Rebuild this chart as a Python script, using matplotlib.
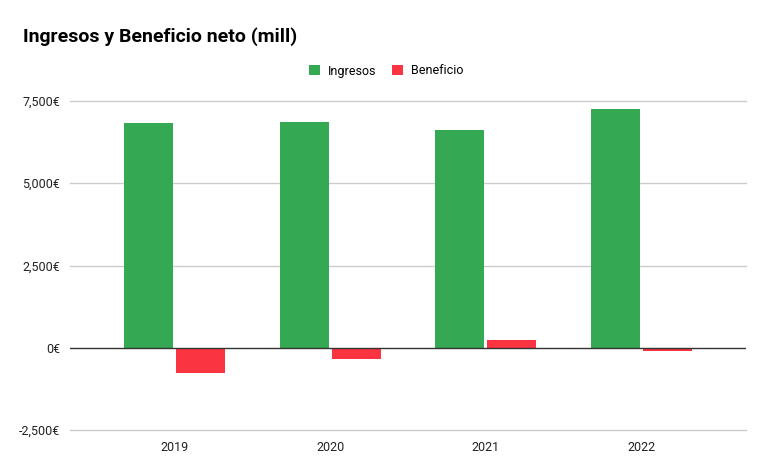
import matplotlib
matplotlib.use("Agg")
import matplotlib.pyplot as plt
import numpy as np
from matplotlib.ticker import FuncFormatter

years = ["2019", "2020", "2021", "2022"]
ingresos = [6830, 6850, 6620, 7260]
beneficio = [-770, -350, 245, -110]
yticks = [-2500, 0, 2500, 5000, 7500]

GREEN = "#34a853"
RED = "#fa3440"

plt.rcParams["font.family"] = ["Roboto", "DejaVu Sans"]

fig = plt.figure(figsize=(7.7, 4.75), dpi=100)
ax = fig.add_axes([70 / 770, 45 / 475, 676 / 770, 329 / 475])

x = np.arange(len(years))
w = 0.315
gap = 0.01
ax.bar(x - w / 2 - gap, ingresos, width=w, color=GREEN, label="Ingresos", zorder=3)
ax.bar(x + w / 2 + gap, beneficio, width=w, color=RED, label="Beneficio", zorder=3)

ax.set_xlim(-0.675, 3.675)
ax.set_ylim(-2500, 7500)
ax.set_yticks(yticks)
ax.yaxis.set_major_formatter(FuncFormatter(lambda v, _: f"{int(v):,}€"))
ax.set_xticks(x)
ax.set_xticklabels(years)

# gridlines drawn by hand so the edge ones are not clipped
for t in yticks:
    if t != 0:
        ax.axhline(t, color="#cccccc", linewidth=1, zorder=0, clip_on=False)
ax.axhline(0, color="#333333", linewidth=1, zorder=4)
for s in ax.spines.values():
    s.set_visible(False)
ax.tick_params(axis="both", length=0, labelsize=9, colors="#222222")
ax.tick_params(axis="y", pad=7)
ax.tick_params(axis="x", pad=8)

fig.text(23 / 770, 1 - 37 / 475, "Ingresos y Beneficio neto (mill)", fontsize=14,
         fontweight="bold", color="#000000", va="center", ha="left")

fig.legend(loc="center", bbox_to_anchor=(386 / 770, 1 - 71 / 475), ncol=2, frameon=False,
           fontsize=9, handlelength=0.9, handleheight=0.9, handletextpad=0.6,
           columnspacing=1.3)

fig.savefig("out.png", dpi=100)
